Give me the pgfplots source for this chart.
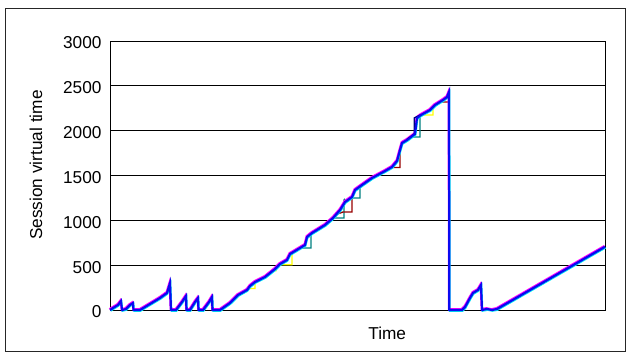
\documentclass[border=0pt]{standalone}
\usepackage{pgfplots}
\pgfplotsset{compat=1.18}
\usepackage{pgfplotstable}
\usepackage{fontspec}
\setmainfont{Liberation Sans}

\definecolor{cblue}{RGB}{10,10,240}
\definecolor{cnavy}{RGB}{0,0,128}
\definecolor{cmag}{RGB}{255,0,255}
\definecolor{ccyan}{RGB}{0,230,240}
\definecolor{cyel}{RGB}{255,255,0}
\definecolor{cteal}{RGB}{0,128,128}
\definecolor{cred}{RGB}{150,0,0}

\pgfplotstableread{
X Y
0 0
3 22
8 56
11 100
12 0
16 11
20 56
23 78
23.5 0
30 0
40 67
50 134
57 190
60 300
61 0
66 0
72 89
76 156
76.5 0
80 0
85 89
88 134
88.5 0
93 0
99 89
102 145
102.5 0
110 0
120 78
128 167
137 223
140 268
145 312
155 368
165 457
170 513
177 558
180 625
185 658
195 725
197 814
202 859
215 948
223 1026
230 1115
235 1204
242 1260
245 1338
252 1394
262 1472
275 1550
282 1595
287 1662
290 1784
292 1862
297 1896
305 1963
307 2141
311 2175
320 2230
325 2286
333 2342
337 2375
339 2431
339.3 0
352 0
355 33
360 134
363 190
368 223
371 279
372 0
377 11
382 0
387 11
495 705
}\maindata

\pgfplotstableread{
X Y
226 1065
233 1093
242 1093
242 1260
nan nan
275 1550
282 1589
290 1589
290 1784
nan nan
325 2286
330 2320
339 2320
339 2431
}\reddata

\pgfplotstableread{
X Y
185 658
190 691
201 691
201 836
202 859
nan nan
223 1026
234 1026
234 1227
235 1240
nan nan
236 1215
240 1249
250 1249
250 1383
252 1394
nan nan
297 1896
302 1929
310 1929
310 2165
}\tealdata

\pgfplotstableread{
X Y
165 457
170 505
182 505
182 640
185 658
nan nan
307 2141
313 2175
323 2175
323 2260
325 2286
nan nan
137 223
140 240
145 240
145 312
nan nan
155 368
162 440
166 440
166 470
}\yeldata

\pgfplotstableread{
X Y
297 1896
305 1963
305 2141
311 2175
}\navydata

\begin{document}
\begin{tikzpicture}[x=1bp,y=1bp]
\path[use as bounding box] (0,0) rectangle (631,358);
\draw[line width=0.8bp, black!85] (5.5,6.5) rectangle (625.5,350);
\begin{axis}[
  at={(110bp,48bp)}, anchor=south west,
  scale only axis, width=495bp, height=269bp,
  xmin=0, xmax=495, ymin=0, ymax=3000,
  ytick={0,500,1000,1500,2000,2500,3000},
  xtick=\empty,
  ymajorgrids,
  grid style={black, line width=0.8bp},
  axis line style={black, line width=0.9bp},
  tick style={draw=none},
  clip=false,
  unbounded coords=jump,
  /pgf/number format/assume math mode=true,
  /pgf/number format/1000 sep={},
  yticklabel style={font=\fontsize{17.3}{20}\selectfont, xshift=-5bp, yshift=-2bp},
  label style={font=\fontsize{17.3}{20}\selectfont},
  xlabel={Time},
  ylabel={Session virtual time},
  xlabel style={at={(axis description cs:0.56,-0.0855)}, anchor=center},
  ylabel style={at={(axis description cs:-0.1495,0.539)}, anchor=center},
]
\addplot[cyel, line width=1.4bp, no markers] table[x=X,y=Y] {\yeldata};
\addplot[cteal, line width=1.4bp, no markers] table[x=X,y=Y] {\tealdata};
\addplot[cred, line width=1.4bp, no markers] table[x=X,y=Y] {\reddata};
\addplot[ccyan, line width=1.6bp, no markers, yshift=-1bp, xshift=0.6bp] table[x=X,y=Y] {\maindata};
\addplot[cmag, line width=1.6bp, no markers, yshift=1.1bp, xshift=-0.6bp] table[x=X,y=Y] {\maindata};
\addplot[cnavy, line width=1.4bp, no markers, xshift=-0.8bp] table[x=X,y=Y] {\navydata};
\addplot[cblue, line width=2.2bp, no markers] table[x=X,y=Y] {\maindata};
\end{axis}
\end{tikzpicture}
\end{document}
